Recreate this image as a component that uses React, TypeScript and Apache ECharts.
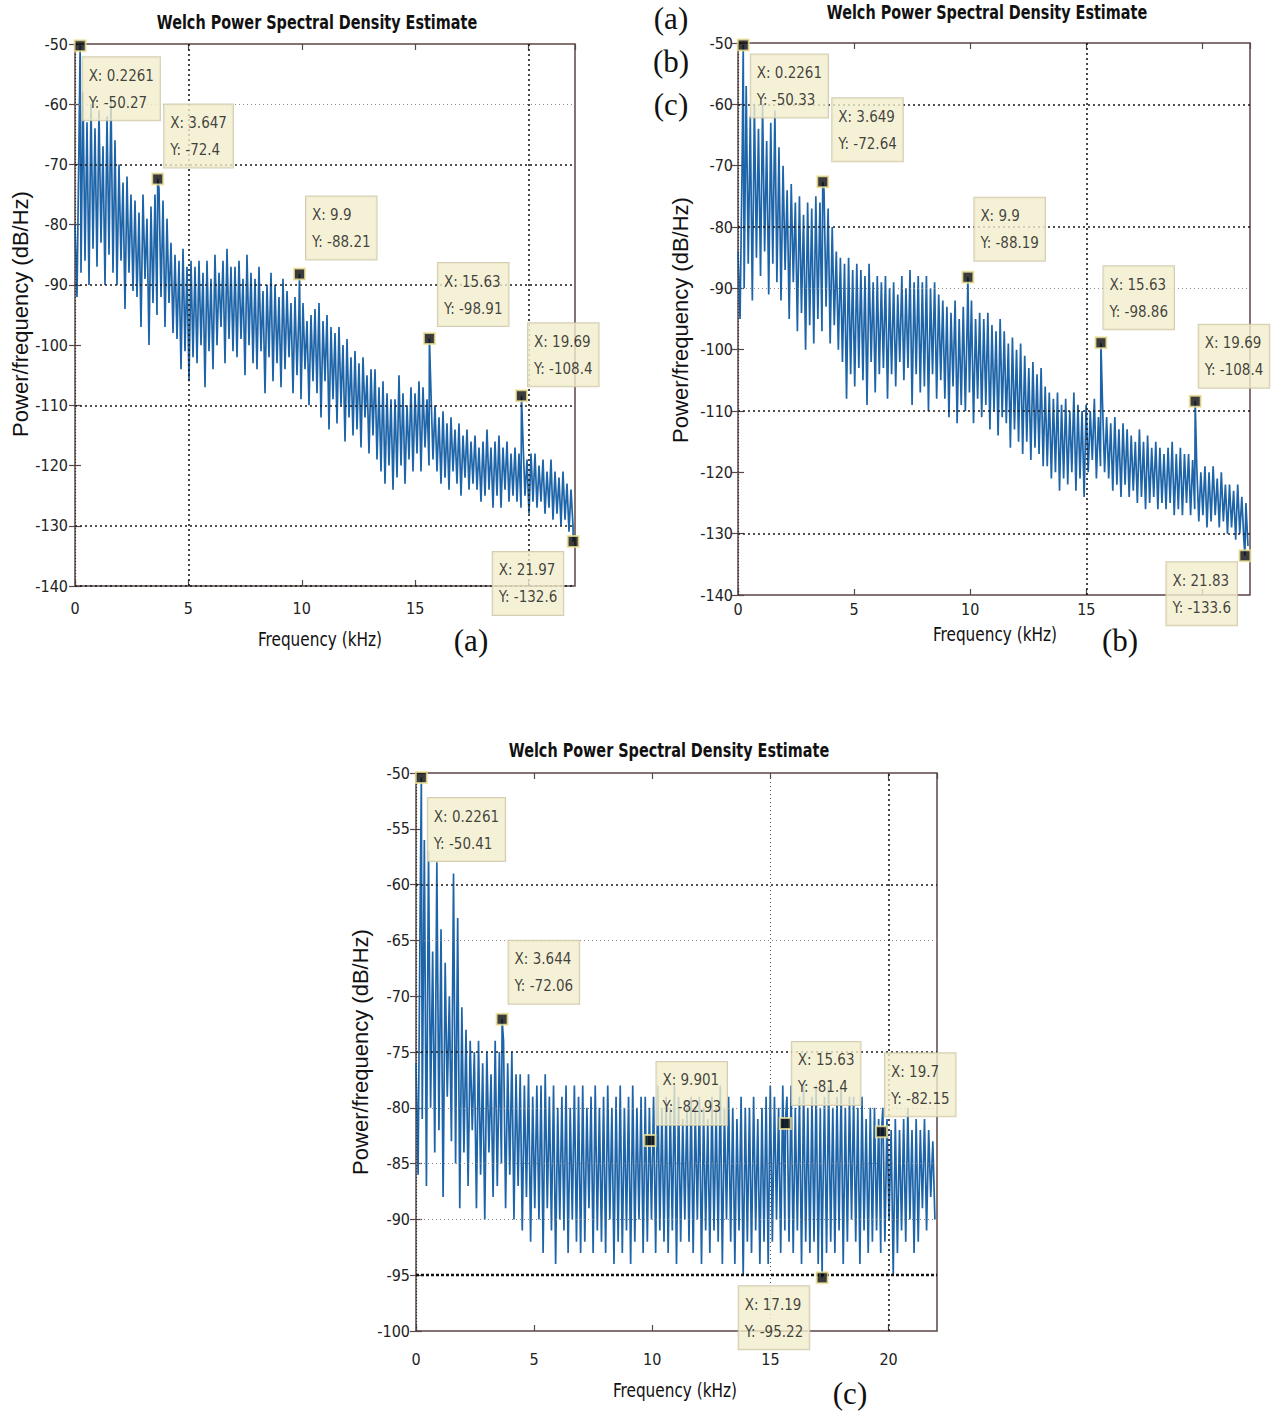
import React, { useEffect, useRef } from "react";
import * as echarts from "echarts";

// PSD frequency-bin spacing (kHz) of the Welch estimate grid
const binKHz = 0.0882;

// ---- Panel (a) spectrum (dB/Hz), one value per bin ----
const psdA: number[] = [
  -80, -92, -66, -88, -58, -86, -63, -90, -60, -84,
  -64, -87, -61, -83, -67, -90, -62, -85, -59, -88,
  -66, -90, -70, -86, -73, -94, -72, -88, -75, -91,
  -76, -92, -78, -97, -75, -89, -79, -100, -77, -93,
  -75, -95, -74, -92, -76, -97, -79, -93, -83, -98,
  -85, -99, -86, -104, -84, -101, -87, -106, -86, -102,
  -87, -103, -86, -100, -88, -107, -86, -101, -89, -104,
  -85, -100, -88, -97, -86, -103, -84, -99, -87, -101,
  -87, -102, -86, -99, -89, -105, -85, -100, -88, -103,
  -89, -104, -87, -101, -91, -108, -90, -102, -88, -106,
  -90, -103, -92, -107, -89, -104, -91, -102, -93, -108,
  -92, -105, -94, -109, -93, -104, -96, -110, -95, -106,
  -94, -108, -93, -112, -96, -106, -95, -114, -97, -109,
  -98, -113, -97, -110, -100, -116, -99, -112, -102, -115,
  -101, -114, -103, -117, -102, -112, -105, -118, -104, -115,
  -104, -119, -107, -121, -106, -123, -108, -120, -109, -124,
  -109, -122, -105, -120, -108, -123, -110, -119, -107, -121,
  -108, -118, -106, -121, -107, -117, -109, -120, -108, -119,
  -110, -121, -112, -123, -111, -122, -113, -124, -112, -121,
  -114, -123, -113, -125, -115, -122, -114, -124, -116, -123,
  -115, -124, -117, -126, -116, -125, -114, -124, -117, -127,
  -116, -125, -115, -127, -117, -124, -116, -126, -118, -125,
  -117, -126, -118, -127, -116, -125, -119, -128, -118, -126,
  -118, -127, -120, -126, -119, -128, -121, -127, -119, -129,
  -121, -128, -122, -130, -121, -129, -123, -131, -124, -130,
];

// ---- Panel (b) spectrum ----
const psdB: number[] = [
  -84, -95, -70, -90, -57, -86, -62, -92, -60, -85,
  -64, -88, -60, -84, -66, -91, -63, -86, -61, -89,
  -67, -92, -70, -87, -74, -95, -73, -89, -76, -97,
  -75, -94, -78, -100, -76, -96, -77, -99, -75, -95,
  -76, -97, -74, -93, -77, -99, -80, -96, -84, -100,
  -85, -102, -86, -108, -85, -104, -87, -106, -86, -103,
  -87, -105, -88, -109, -86, -102, -89, -107, -88, -104,
  -89, -103, -88, -108, -90, -104, -89, -106, -91, -102,
  -88, -105, -90, -103, -87, -109, -89, -104, -88, -107,
  -89, -106, -88, -110, -90, -104, -89, -108, -91, -105,
  -92, -108, -93, -111, -94, -106, -92, -112, -95, -109,
  -93, -110, -94, -107, -92, -112, -95, -108, -94, -111,
  -95, -109, -94, -113, -96, -110, -97, -114, -95, -111,
  -97, -112, -99, -116, -98, -113, -100, -115, -99, -117,
  -101, -115, -103, -118, -102, -116, -104, -117, -103, -119,
  -106, -119, -107, -121, -108, -120, -107, -123, -109, -121,
  -108, -122, -110, -120, -107, -123, -109, -121, -110, -124,
  -109, -120, -110, -118, -108, -121, -111, -119, -109, -120,
  -111, -121, -112, -123, -111, -122, -113, -124, -112, -122,
  -113, -124, -114, -123, -115, -125, -113, -124, -115, -126,
  -114, -125, -116, -124, -115, -126, -116, -125, -117, -126,
  -116, -125, -115, -127, -117, -126, -116, -127, -117, -125,
  -117, -127, -118, -126, -119, -128, -120, -127, -119, -129,
  -120, -128, -119, -127, -121, -129, -120, -128, -122, -130,
  -122, -129, -123, -131, -122, -130, -124, -131, -125, -132,
];

// ---- Panel (c) spectrum ----
const psdC: number[] = [
  -76, -86, -62, -81, -56, -87, -57, -80, -66, -84,
  -58, -82, -64, -88, -67, -79, -70, -83, -59, -85,
  -63, -89, -71, -84, -73, -87, -74, -82, -75, -89,
  -74, -86, -76, -90, -75, -84, -77, -88, -74, -87,
  -75, -85, -74, -89, -76, -86, -75, -90, -77, -87,
  -77, -91, -78, -88, -77, -92, -79, -89, -78, -90,
  -78, -93, -77, -89, -79, -91, -78, -94, -80, -90,
  -79, -91, -78, -93, -80, -90, -78, -92, -79, -93,
  -78, -92, -80, -89, -79, -93, -78, -91, -80, -92,
  -79, -93, -78, -90, -80, -94, -79, -92, -78, -93,
  -80, -91, -79, -94, -78, -92, -80, -90, -79, -93,
  -79, -92, -80, -90, -79, -93, -78, -91, -80, -92,
  -79, -93, -80, -91, -78, -94, -79, -92, -81, -90,
  -80, -92, -79, -93, -80, -90, -79, -94, -80, -91,
  -81, -93, -79, -91, -80, -92, -78, -94, -80, -90,
  -79, -92, -80, -94, -81, -91, -79, -95, -80, -92,
  -80, -93, -79, -91, -81, -94, -80, -92, -79, -94,
  -78, -92, -79, -90, -80, -93, -78, -91, -79, -92,
  -78, -93, -80, -91, -79, -94, -78, -92, -80, -93,
  -79, -92, -78, -94, -80, -91, -79, -93, -78, -92,
  -80, -93, -79, -91, -78, -94, -80, -92, -79, -90,
  -79, -92, -80, -94, -79, -91, -81, -93, -80, -92,
  -80, -91, -81, -93, -80, -92, -81, -90, -82, -95,
  -81, -93, -82, -91, -81, -92, -80, -90, -82, -93,
  -81, -92, -82, -89, -81, -91, -82, -88, -83, -90,
];

// ---- Data tips (MATLAB data cursors) ----
const tipAX = [0.2261, 3.647, 9.9, 15.63, 19.69, 21.97];
const tipAY = [-50.27, -72.4, -88.21, -98.91, -108.4, -132.6];
const tipBX = [0.2261, 3.649, 9.9, 15.63, 19.69, 21.83];
const tipBY = [-50.33, -72.64, -88.19, -98.86, -108.4, -133.6];
const tipCX = [0.2261, 3.644, 9.901, 15.63, 19.7, 17.19];
const tipCY = [-50.41, -72.06, -82.93, -81.4, -82.15, -95.22];

// ---- Tick labels shown on the x axes (20 is hidden behind a data tip in a, b) ----
const xTickLabelsA = [0, 5, 10, 15];
const xTickLabelsB = [0, 5, 10, 15];
const xTickLabelsC = [0, 5, 10, 15, 20];

// ---- Grid lines drawn in each panel ----
const gridBoldYA = [-70, -90, -110, -130, -140];
const gridLightYA = [-60];
const gridBoldXA = [5, 20];
const gridBoldYB = [-60, -80, -110, -130];
const gridLightYB = [-90];
const gridBoldXB = [15];
const gridBoldYC = [-60, -75];
const gridHeavyYC = [-95];
const gridLightYC = [-65, -80, -85, -90];
const gridBoldXC = [20];
const gridLightXC = [15];

// ---- Layout (pixel) settings, kept apart from data ----
const tipPosA = [[9, 18], [13, -68], [13, -71], [15, -69], [13, -66], [-74, 17]];
const tipPosB = [[14, 16], [16, -77], [13, -73], [9, -70], [10, -70], [-72, 13]];
const tipPosC = [[13, 27], [13, -72], [13, -72], [13, -75], [10, -72], [-77, 15]];

const FONT_N = "'DejaVu Sans Condensed', 'Liberation Sans Narrow', 'Liberation Sans', Arial, sans-serif";
const FONT_S = "'Liberation Sans', Arial, sans-serif";
const FONT_SERIF = "'Liberation Serif', 'DejaVu Serif', serif";
const AXIS_COLOR = "#5b4646";
const LINE_COLOR = "#1d64a8";

function mergeSpectrum(vals: number[], tx: number[], ty: number[]) {
  const pts: number[][] = vals.map((v, i) => [Number((i * binKHz).toFixed(4)), v]);
  tx.forEach((x, k) => pts.push([x, ty[k]]));
  pts.sort((p, q) => p[0] - q[0]);
  return pts;
}

const boldStyle = { color: "#1a1a1a", type: [2, 3], width: 1.6 };
const lightStyle = { color: "#8a8a8a", type: [1, 3], width: 1 };
const heavyStyle = { color: "#111", type: [3, 2], width: 2.4 };
const edgeStyle = { color: "#333", type: [1, 2], width: 1.2 };

const panels = [
  {
    grid: { left: 75, top: 44, width: 500, height: 542 },
    yMin: -140, yMax: -50, yInt: 10,
    psd: psdA, tx: tipAX, ty: tipAY, pos: tipPosA, xLabels: xTickLabelsA,
    boldY: gridBoldYA, lightY: gridLightYA, heavyY: [] as number[], boldX: gridBoldXA, lightX: [] as number[],
    xMargin: 14, yMargin: 7, yPad: [0, 0, 0, 0],
  },
  {
    grid: { left: 738, top: 43, width: 512, height: 552 },
    yMin: -140, yMax: -50, yInt: 10,
    psd: psdB, tx: tipBX, ty: tipBY, pos: tipPosB, xLabels: xTickLabelsB,
    boldY: gridBoldYB, lightY: gridLightYB, heavyY: [] as number[], boldX: gridBoldXB, lightX: [] as number[],
    xMargin: 6, yMargin: 5, yPad: [0, 0, 12, 0],
  },
  {
    grid: { left: 416, top: 773, width: 521, height: 558 },
    yMin: -100, yMax: -50, yInt: 5,
    psd: psdC, tx: tipCX, ty: tipCY, pos: tipPosC, xLabels: xTickLabelsC,
    boldY: gridBoldYC, lightY: gridLightYC, heavyY: gridHeavyYC, boldX: gridBoldXC, lightX: gridLightXC,
    xMargin: 20, yMargin: 6, yPad: [0, 0, 0, 0],
  },
];

const titleTexts = [
  { text: "Welch Power Spectral Density Estimate", x: 317, y: 22 },
  { text: "Welch Power Spectral Density Estimate", x: 987, y: 12 },
  { text: "Welch Power Spectral Density Estimate", x: 669, y: 750 },
];
const xNameTexts = [
  { text: "Frequency (kHz)", x: 320, y: 639 },
  { text: "Frequency (kHz)", x: 995, y: 634 },
  { text: "Frequency (kHz)", x: 675, y: 1390 },
];
const yNameTexts = [
  { text: "Power/frequency (dB/Hz)", x: 20, y: 314 },
  { text: "Power/frequency (dB/Hz)", x: 680, y: 320 },
  { text: "Power/frequency (dB/Hz)", x: 360, y: 1052 },
];
const letterTexts = [
  { text: "(a)", x: 471, y: 640 },
  { text: "(b)", x: 1120, y: 640 },
  { text: "(c)", x: 850, y: 1393 },
  { text: "(a)", x: 671, y: 18 },
  { text: "(b)", x: 671, y: 61 },
  { text: "(c)", x: 671, y: 104 },
];

function txt(t: { text: string; x: number; y: number }, font: string, size: number, weight: string, rotation = 0, scaleX = 1) {
  return {
    type: "text",
    x: t.x,
    y: t.y,
    rotation,
    scaleX,
    silent: true,
    style: {
      text: t.text,
      fontFamily: font,
      fontSize: size,
      fontWeight: weight,
      fill: "#111",
      textAlign: "center",
      textVerticalAlign: "middle",
      align: "center",
      verticalAlign: "middle",
    },
  };
}

function buildOption() {
  const grid: any[] = [];
  const xAxis: any[] = [];
  const yAxis: any[] = [];
  const series: any[] = [];
  panels.forEach((p, k) => {
    grid.push({ ...p.grid, show: true, borderColor: AXIS_COLOR, borderWidth: 1.5, backgroundColor: "transparent" });
    const tickStyle = { inside: true, length: 6, lineStyle: { color: AXIS_COLOR, width: 1.2 } };
    const xBase = { type: "value", gridIndex: k, min: 0, max: 22.05, interval: 5, axisLine: { show: false }, axisTick: tickStyle, splitLine: { show: false } };
    xAxis.push({
      ...xBase,
      position: "bottom",
      axisLabel: {
        fontFamily: FONT_N, fontSize: 16, color: "#222", margin: p.xMargin, showMaxLabel: false,
        formatter: (v: number) => (p.xLabels.indexOf(v) >= 0 ? String(v) : ""),
      },
    });
    xAxis.push({ ...xBase, position: "top", axisLabel: { show: false } });
    const yBase = { type: "value", gridIndex: k, min: p.yMin, max: p.yMax, interval: p.yInt, axisLine: { show: false }, axisTick: tickStyle, splitLine: { show: false } };
    yAxis.push({ ...yBase, position: "left", axisLabel: { fontFamily: FONT_N, fontSize: 16, color: "#222", margin: p.yMargin, padding: p.yPad } });
    yAxis.push({ ...yBase, position: "right", axisLabel: { show: false } });

    const mlData: any[] = [];
    p.boldY.forEach((v) => mlData.push({ yAxis: v, lineStyle: boldStyle }));
    p.lightY.forEach((v) => mlData.push({ yAxis: v, lineStyle: lightStyle }));
    p.heavyY.forEach((v) => mlData.push({ yAxis: v, lineStyle: heavyStyle }));
    p.boldX.forEach((v) => mlData.push({ xAxis: v, lineStyle: boldStyle }));
    p.lightX.forEach((v) => mlData.push({ xAxis: v, lineStyle: { ...lightStyle, color: "#555" } }));
    mlData.push({ xAxis: 0, lineStyle: edgeStyle });

    series.push({
      type: "line",
      xAxisIndex: 2 * k,
      yAxisIndex: 2 * k,
      data: mergeSpectrum(p.psd, p.tx, p.ty),
      showSymbol: false,
      symbol: "none",
      silent: true,
      lineStyle: { color: LINE_COLOR, width: 1.7 },
      z: 3,
      markLine: { silent: true, symbol: "none", label: { show: false }, data: mlData, z: 4 },
    });
    series.push({
      type: "scatter",
      xAxisIndex: 2 * k,
      yAxisIndex: 2 * k,
      symbol: "rect",
      symbolSize: 11,
      z: 6,
      itemStyle: { color: "#0a0a0a", borderColor: "#efe49a", borderWidth: 2 },
      label: {
        show: true,
        formatter: (q: any) => `X: ${q.value[0]}\nY: ${q.value[1]}`,
        fontFamily: FONT_N,
        fontSize: 15,
        color: "#111",
        lineHeight: 27,
        backgroundColor: "#f3eecd",
        borderColor: "#c9c2a2",
        borderWidth: 1,
        padding: [5, 6, 4, 6],
        align: "left",
        verticalAlign: "top",
      },
      data: p.tx.map((x, i) => ({ value: [x, p.ty[i]], label: { position: p.pos[i] } })),
    });
  });

  const graphic: any[] = [];
  titleTexts.forEach((t) => graphic.push(txt(t, FONT_N, 20, "bold", 0, 0.8)));
  xNameTexts.forEach((t) => graphic.push(txt(t, FONT_N, 20, "normal", 0, 0.85)));
  yNameTexts.forEach((t) => graphic.push(txt(t, FONT_S, 22, "normal", Math.PI / 2)));
  letterTexts.forEach((t) => graphic.push(txt(t, FONT_SERIF, 31, "normal")));

  return { animation: false, backgroundColor: "#ffffff", grid, xAxis, yAxis, series, graphic };
}

export default function App() {
  const ref = useRef<HTMLDivElement>(null);
  useEffect(() => {
    if (!ref.current) return;
    const chart = echarts.init(ref.current, undefined, { renderer: "svg" });
    chart.setOption(buildOption() as any);
    return () => chart.dispose();
  }, []);
  return <div ref={ref} style={{ position: "absolute", left: 0, top: 0, width: 1278, height: 1414 }} />;
}
